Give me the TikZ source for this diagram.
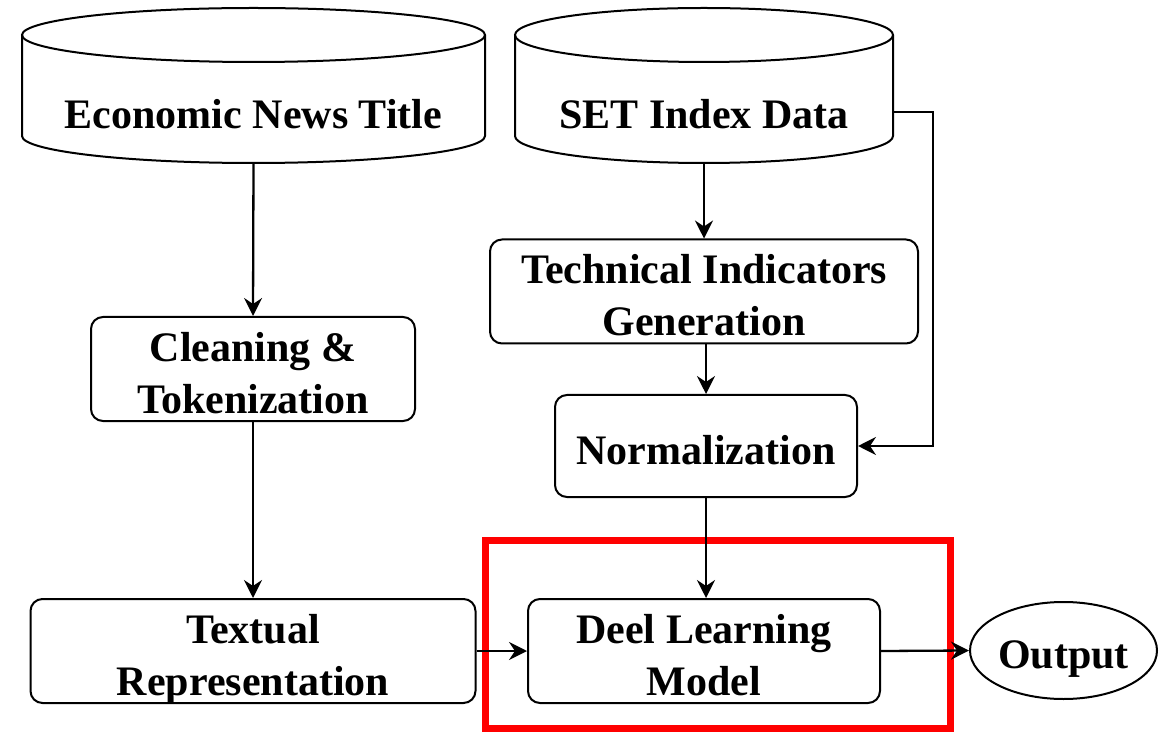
\documentclass[tikz,border=0pt]{standalone}
\usepackage{fontspec}
\setmainfont{Liberation Serif}
\usetikzlibrary{shapes.geometric, arrows.meta}

% centred multi-line label, set a little below the geometric centre
\newcommand\boxtext[1]{\raisebox{-4pt}[\height][\depth]{\begin{tabular}{@{}c@{}}#1\end{tabular}}}

\begin{document}
\begin{tikzpicture}[x=0.5pt, y=-0.5pt,
  every node/.style={font=\fontsize{21}{26}\selectfont\bfseries, inner sep=0pt},
  proc/.style={draw, line width=1pt, rounded corners=6pt},
  db/.style={draw, line width=1pt},
  flow/.style={draw, line width=1.15pt, -{Stealth[length=9pt, width=9pt, inset=3pt]}},
  hilite/.style={draw=red, line width=3.5pt},
]
\useasboundingbox (0,0) rectangle (1161,732);

% database cylinders (outline + text)
\node[minimum width=231.5pt, minimum height=77.5pt] (news) at (253.5,85.5) {};
\draw[db] (22,35) -- (22,136) arc[start angle=180, end angle=0, x radius=231.5, y radius=27] -- (485,35);
\draw[db] (253.5,35) ellipse [x radius=231.5, y radius=27];
\node (newstxt) at (253.5,114) {Economic News Title};

\node[minimum width=189pt, minimum height=77.5pt] (set) at (704,85.5) {};
\draw[db] (515,35) -- (515,136) arc[start angle=180, end angle=0, x radius=189, y radius=27] -- (893,35);
\draw[db] (704,35) ellipse [x radius=189, y radius=27];
\node (settxt) at (704,114) {SET Index Data};

% processing steps
\node[proc, minimum width=162pt, minimum height=51pt] (clean) at (253,369) {\boxtext{Cleaning \&\\Tokenization}};
\node[proc, minimum width=222.5pt, minimum height=51pt] (text) at (253,651) {\boxtext{Textual\\Representation}};
\node[proc, minimum width=214pt, minimum height=51.5pt] (tech) at (704,291.5) {\boxtext{Technical Indicators\\Generation}};
\node[proc, minimum width=151pt, minimum height=51pt] (norm) at (706,446) {\boxtext{Normalization}};
\node[proc, minimum width=176pt, minimum height=51pt] (model) at (704,651) {\boxtext{Deel Learning\\Model}};
\node[draw, ellipse, line width=1pt, minimum width=93.5pt, minimum height=48.5pt] (out) at (1063.5,650.5) {\boxtext{Output}};

% highlight frame around the model
\draw[hilite] (485,540) rectangle (950,728);

% connectors
\coordinate (setside) at (893,112);
\coordinate (bend) at (933,112);
\draw[flow] (news.south) -- (clean.north);
\draw[flow] (clean.south) -- (text.north);
\draw[flow] (set.south -| tech.north) -- (tech.north);
\draw[flow] (tech.south -| norm.north) -- (norm.north);
\draw[flow] (setside) -- (bend) |- (norm.east);
\draw[flow] (norm.south) -- (norm.south |- model.north);
\draw[flow] (text.east) -- (model.west);
\draw[flow] (model.east) -- (out.west);
\end{tikzpicture}
\end{document}
